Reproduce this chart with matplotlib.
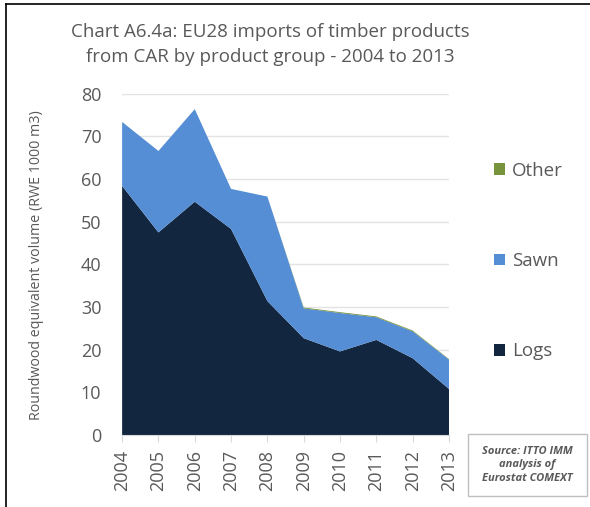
import matplotlib

matplotlib.use("Agg")
import matplotlib.pyplot as plt  # noqa: E402
from matplotlib.patches import Patch, Rectangle  # noqa: E402
from matplotlib.lines import Line2D  # noqa: E402

plt.rcParams["font.family"] = ["Open Sans", "DejaVu Sans"]

# Data (1000 m3 RWE)
years = [2004, 2005, 2006, 2007, 2008, 2009, 2010, 2011, 2012, 2013]
logs = [58.4, 47.5, 54.7, 48.3, 31.4, 22.7, 19.6, 22.3, 18.0, 10.8]
sawn = [15.0, 19.1, 21.7, 9.4, 24.5, 7.0, 9.0, 5.3, 6.3, 6.9]
other = [0.0, 0.0, 0.0, 0.0, 0.0, 0.2, 0.2, 0.2, 0.2, 0.1]
series_names = ["Logs", "Sawn", "Other"]
colors = ["#12263f", "#558ed5", "#77933c"]
yticks = [0, 10, 20, 30, 40, 50, 60, 70, 80]

TEXT = "#595959"

fig = plt.figure(figsize=(5.9, 5.07), dpi=100)
ax = fig.add_axes([0.207, 0.142, 0.554, 0.673])

ax.stackplot(years, logs, sawn, other, colors=colors, linewidth=0)

ax.set_xlim(years[0], years[-1])
ax.set_ylim(0, 80)
ax.set_yticks(yticks)
ax.set_xticks(years)
ax.set_xticklabels([str(y) for y in years], rotation=90)
ax.tick_params(axis="y", length=0, labelsize=13, colors=TEXT, pad=15)
ax.tick_params(axis="x", length=5, color="#d9d9d9", labelsize=13,
               colors=TEXT, pad=6)
ax.grid(axis="y", color="#e3e3e3", linewidth=1)
ax.set_axisbelow(True)
for side in ("left", "right", "top"):
    ax.spines[side].set_visible(False)
ax.spines["bottom"].set_color("#d9d9d9")

fig.text(0.062, 0.477, "Roundwood equivalent volume (RWE 1000 m3)",
         rotation=90, ha="center", va="center", fontsize=10.3, color=TEXT)

fig.text(0.458, 0.913, "Chart A6.4a: EU28 imports of timber products\n"
         "from CAR by product group - 2004 to 2013",
         ha="center", va="center", fontsize=13.5, color=TEXT,
         linespacing=1.5)

# legend, top to bottom: Other, Sawn, Logs
handles = [Patch(facecolor=c, edgecolor="none") for c in colors][::-1]
leg = fig.legend(handles, series_names[::-1], loc="center left",
                 bbox_to_anchor=(0.808, 0.485), frameon=False,
                 fontsize=13.5, labelcolor=TEXT, handlelength=0.6,
                 handleheight=0.6, handletextpad=0.4, labelspacing=3.85)

# source box
fig.patches.append(Rectangle((0.793, 0.022), 0.202, 0.122,
                             transform=fig.transFigure, facecolor="white",
                             edgecolor="#bfbfbf", linewidth=1))
fig.text(0.894, 0.083, "Source: ITTO IMM\nanalysis of\nEurostat COMEXT",
         ha="center", va="center", fontsize=8, color=TEXT,
         style="italic", weight="bold", linespacing=1.3)

# outer frame: top and left edges only
fig.add_artist(Line2D([0.01, 1.0], [0.992, 0.992], transform=fig.transFigure,
                      color="black", linewidth=1.2))
fig.add_artist(Line2D([0.01, 0.01], [0.0, 0.992], transform=fig.transFigure,
                      color="black", linewidth=1.2))

fig.savefig("out.png", dpi=100)
